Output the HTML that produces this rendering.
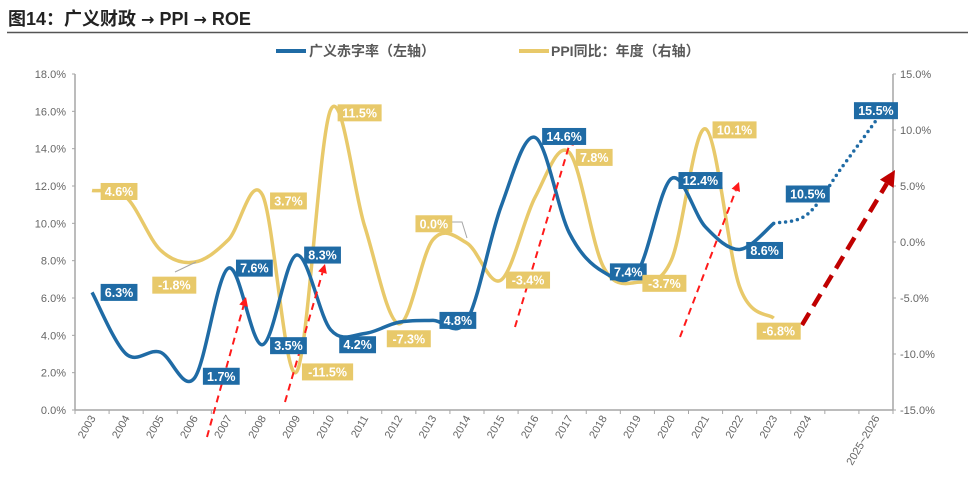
<!DOCTYPE html>
<html><head><meta charset="utf-8"><style>
body{margin:0;background:#fff;}
svg{display:block;font-family:"Liberation Sans","Noto Sans CJK SC",sans-serif;}
</style></head><body>
<svg id="chart" width="968" height="478" viewBox="0 0 968 478" xmlns="http://www.w3.org/2000/svg">
<text x="8" y="25" font-size="18" font-weight="bold" fill="#222">图14：广义财政 <tspan font-family="DejaVu Sans" font-size="16">→</tspan> PPI <tspan font-family="DejaVu Sans" font-size="16">→</tspan> ROE</text>
<line x1="7" y1="32.5" x2="968" y2="32.5" stroke="#555" stroke-width="1.5"/>
<g>
<line x1="276" y1="51" x2="306" y2="51" stroke="#1F6BA5" stroke-width="4"/>
<text x="309" y="56" font-size="14" font-weight="bold" fill="#595959">广义赤字率（左轴）</text>
<line x1="519" y1="51" x2="549" y2="51" stroke="#E8C96A" stroke-width="4"/>
<text x="551" y="56" font-size="14" font-weight="bold" fill="#595959">PPI同比：年度（右轴）</text>
</g>
<g id="axes"></g>
<g id="marks"></g>
<g id="labels"></g>
</svg>
<script>
const categories = ["2003","2004","2005","2006","2007","2008","2009","2010","2011","2012","2013","2014","2015","2016","2017","2018","2019","2020","2021","2022","2023","2024","","2025~2026"];
const deficit = [6.3,3.0,3.1,1.7,7.6,3.5,8.3,4.3,4.1,4.7,4.8,4.8,10.9,14.6,9.5,7.4,7.4,12.4,9.8,8.6,10.0];
const deficitForecast = [10.0,10.5,13.0,15.5];
const ppi = [4.6,4.0,-0.7,-1.8,0.2,4.2,-11.6,11.8,1.4,-7.3,0.2,-0.1,-3.4,4.0,8.0,-2.2,-3.6,-1.6,10.1,-4.0,-6.8];
const leftTicks = [0,2,4,6,8,10,12,14,16,18];
const rightTicks = [-15,-10,-5,0,5,10,15];
const deficitLabels = [[0,"6.3%"],[3,"1.7%"],[4,"7.6%"],[5,"3.5%"],[6,"8.3%"],[7,"4.2%"],[10,"4.8%"],[13,"14.6%"],[15,"7.4%"],[17,"12.4%"],[19,"8.6%"]];
const forecastLabels = [[21,"10.5%"],[23,"15.5%"]];
const ppiLabels = [[0,"4.6%"],[3,"-1.8%"],[5,"3.7%"],[6,"-11.5%"],[7,"11.5%"],[9,"-7.3%"],[10,"0.0%"],[12,"-3.4%"],[14,"7.8%"],[16,"-3.7%"],[18,"10.1%"],[20,"-6.8%"]];

const NS="http://www.w3.org/2000/svg";
const L=75,R=893,T=74,B=410,N=categories.length,slot=(R-L)/N;
const x=i=>L+slot*(i+0.5);
const yL=v=>B-(v-0)/18*(B-T);
const yR=v=>B-(v+15)/30*(B-T);
function mk(tag,attrs,parent){const e=document.createElementNS(NS,tag);for(const k in attrs)e.setAttribute(k,attrs[k]);parent.appendChild(e);return e;}
function smooth(pts){let d="M"+pts[0][0]+","+pts[0][1];for(let i=0;i<pts.length-1;i++){const p0=pts[Math.max(0,i-1)],p1=pts[i],p2=pts[i+1],p3=pts[Math.min(pts.length-1,i+2)];const c1=[p1[0]+(p2[0]-p0[0])/6,p1[1]+(p2[1]-p0[1])/6],c2=[p2[0]-(p3[0]-p1[0])/6,p2[1]-(p3[1]-p1[1])/6];d+=" C"+c1+" "+c2+" "+p2;}return d;}
const axes=document.getElementById('axes'),marks=document.getElementById('marks'),labels=document.getElementById('labels');
const gc="#A6A6A6";
let e;
e=mk('line',{x1:L,y1:T,x2:L,y2:B,stroke:gc,'stroke-width':1.5},axes);


e=mk('line',{x1:R,y1:T,x2:R,y2:B,stroke:gc,'stroke-width':1.5},axes);


e=mk('line',{x1:L,y1:B,x2:R,y2:B,stroke:gc,'stroke-width':1.5},axes);


leftTicks.forEach(v=>{mk('line',{x1:L-3,y1:yL(v),x2:L,y2:yL(v),stroke:gc},axes);
 e=mk('text',{x:L-9,y:yL(v)+4,'font-size':11,fill:'#666','text-anchor':'end'},axes);e.textContent=v.toFixed(1)+"%";
 
 });
rightTicks.forEach(v=>{mk('line',{x1:R,y1:yR(v),x2:R+3,y2:yR(v),stroke:gc},axes);
 e=mk('text',{x:R+7,y:yR(v)+4,'font-size':11,fill:'#666'},axes);e.textContent=v.toFixed(1)+"%";
 
 });
for(let i=0;i<=N;i++)mk('line',{x1:L+slot*i,y1:B,x2:L+slot*i,y2:B+4,stroke:gc},axes);
categories.forEach((c,i)=>{if(!c)return;const ax=x(i)+4,ay=418;
 e=mk('text',{x:ax,y:ay,'font-size':11,fill:'#666','text-anchor':'end',transform:`rotate(-60 ${ax} ${ay})`},axes);e.textContent=c;
 
 });

const ppiPts=ppi.map((v,i)=>[x(i),yR(v)]);
e=mk('path',{d:smooth(ppiPts),fill:'none',stroke:'#E8C96A','stroke-width':3.5},marks);


const defPts=deficit.map((v,i)=>[x(i),yL(v)]);
e=mk('path',{d:smooth(defPts),fill:'none',stroke:'#1F6BA5','stroke-width':3.5},marks);


const s0=deficit.length-1;
const fPts=deficitForecast.map((v,i)=>[x(s0+i),yL(v)]);
e=mk('path',{d:smooth(fPts),fill:'none',stroke:'#1F6BA5','stroke-width':3.5,'stroke-dasharray':'0 6','stroke-linecap':'round'},marks);



const arrows=[[207,437,246,297,'#FF1A1A',2],[285,402,325,264,'#FF1A1A',2],[515,327,572,136,'#FF1A1A',2],[680,337,739,182,'#FF1A1A',2],[802,325,895,170,'#C00000',4.5]];
arrows.forEach(a=>{const [x1,y1,x2,y2,c,w]=a;const ang=Math.atan2(y2-y1,x2-x1),hl=w>3?16:9,hw=w>3?8:4.5;
 const bx=x2-hl*Math.cos(ang),by=y2-hl*Math.sin(ang);
 const g=mk('g',{},marks);
 
 
 mk('line',{x1,y1,x2:bx,y2:by,stroke:c,'stroke-width':w,'stroke-dasharray':w>3?'14 8':'7 5'},g);
 mk('polygon',{points:`${x2},${y2} ${bx+hw*Math.sin(ang)},${by-hw*Math.cos(ang)} ${bx-hw*Math.sin(ang)},${by+hw*Math.cos(ang)}`,fill:c},g);});

mk('polyline',{points:"175,272 196,262",fill:'none',stroke:'#A6A6A6'},labels);
mk('polyline',{points:"452,222 462,222 467,238",fill:'none',stroke:'#A6A6A6'},labels);

function label(cx,cy,txt,bg,name){const w=txt.length*7.2+8,h=17;
 const g=mk('g',{},labels);
 
 
 mk('rect',{x:cx-w/2,y:cy-h/2,width:w,height:h,fill:bg},g);
 const t=mk('text',{x:cx,y:cy+4.5,'font-size':12.5,'font-weight':'bold',fill:'#fff','text-anchor':'middle'},g);t.textContent=txt;}
const dOff={0:[27,0],3:[27,-2],4:[26,0],5:[26,1],6:[26,0],7:[27,15],10:[25,0],13:[29,-1],15:[25,0],17:[29,2],19:[25,1]};
deficitLabels.forEach(([i,t])=>{const o=dOff[i];label(x(i)+o[0],yL(deficit[i])+o[1],t,'#1F6BA5','deficit-data-label');});
const fOff={21:[0,-20],23:[0,-10]};
forecastLabels.forEach(([i,t])=>{const o=fOff[i];label(x(i)+o[0],yL(deficitForecast[i-s0])+o[1],t,'#1F6BA5','forecast-data-label');});
const pOff={0:[27,1],3:[-20,23],5:[26,6],6:[31,0],7:[29,3],9:[10,15],10:[1,-16],12:[27,0],14:[25,5],16:[27,1],18:[29,1],20:[5,13]};
ppiLabels.forEach(([i,t])=>{const o=pOff[i];label(x(i)+o[0],yR(ppi[i])+o[1],t,'#E8C96A','ppi-data-label');});
</script>
</body></html>
